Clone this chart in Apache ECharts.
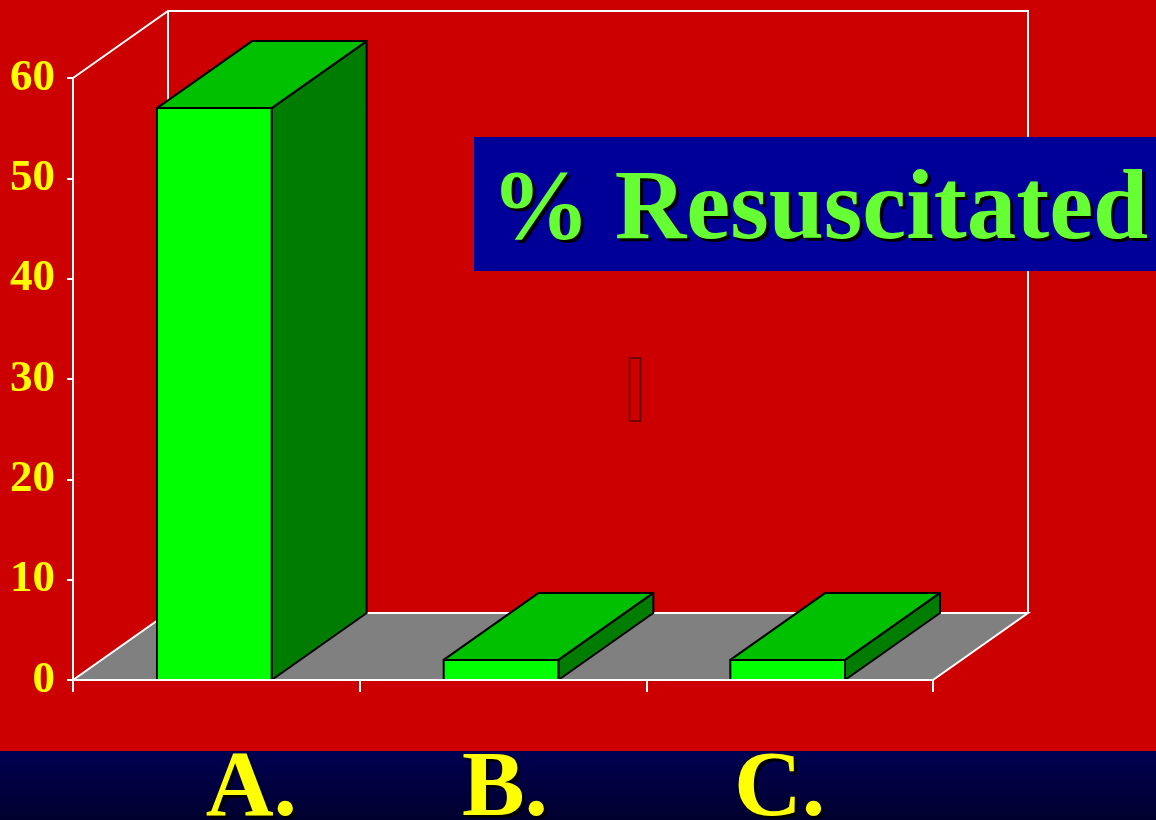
<!DOCTYPE html>
<html>
<head>
<meta charset="utf-8">
<title>% Resuscitated</title>
<script src="https://cdn.jsdelivr.net/npm/echarts@6/dist/echarts.min.js"></script>
<style>
  html, body { margin: 0; padding: 0; background: #cc0000; }
  #chart { width: 1156px; height: 820px; }
</style>
</head>
<body>
<div id="chart"></div>
<script>
// Groups and the share of each group that was resuscitated (%)
const categories = ['A.', 'B.', 'C.'];
const resuscitated = [57, 2, 2];
const yTicks = [0, 10, 20, 30, 40, 50, 60];
const titleText = '% Resuscitated';

const SERIF = '"Liberation Serif", "Times New Roman", serif';
// oblique offset used for the 3-D depth of floor, walls and bars
const DEPTH_X = 95;
const DEPTH_Y = -67;

const chart = echarts.init(document.getElementById('chart'), null, { renderer: 'canvas' });

const yMin = yTicks[0];
const yMax = yTicks[yTicks.length - 1];
const yStep = yTicks[1] - yTicks[0];

// floor, back wall and side wall of the 3-D box
function renderFrame(params, api) {
  const band = api.size([1, 0])[0];
  const left = api.coord([0, yMin])[0] - band / 2;
  const right = api.coord([categories.length - 1, yMin])[0] + band / 2;
  const yBase = api.coord([0, yMin])[1];
  const yTop = api.coord([0, yMax])[1];
  const line = { stroke: '#ffffff', lineWidth: 2, fill: null };
  return {
    type: 'group',
    children: [
      {
        type: 'polygon',
        shape: { points: [[left, yBase], [right, yBase], [right + DEPTH_X, yBase + DEPTH_Y], [left + DEPTH_X, yBase + DEPTH_Y]] },
        style: { fill: '#808080', stroke: null }
      },
      { type: 'polyline', shape: { points: [[left, yBase], [left + DEPTH_X, yBase + DEPTH_Y], [right + DEPTH_X, yBase + DEPTH_Y], [right, yBase]] }, style: line },
      { type: 'polyline', shape: { points: [[left, yTop], [left + DEPTH_X, yTop + DEPTH_Y], [right + DEPTH_X, yTop + DEPTH_Y], [right + DEPTH_X, yBase + DEPTH_Y]] }, style: line },
      { type: 'line', shape: { x1: left + DEPTH_X, y1: yTop + DEPTH_Y, x2: left + DEPTH_X, y2: yBase + DEPTH_Y }, style: line }
    ]
  };
}

// one 3-D column: front face, top face, right face
function renderBar(params, api) {
  const idx = api.value(0);
  const val = api.value(1);
  const band = api.size([1, 0])[0];
  const w = band * 0.4;
  const top = api.coord([idx, val]);
  const base = api.coord([idx, yMin]);
  const x0 = top[0] - w / 2 - 2;
  const x1 = x0 + w;
  const y0 = top[1];
  const y1 = base[1];
  const edge = { stroke: '#000000', lineWidth: 2, lineJoin: 'round' };
  return {
    type: 'group',
    children: [
      {
        type: 'polygon',
        shape: { points: [[x1, y0], [x1 + DEPTH_X, y0 + DEPTH_Y], [x1 + DEPTH_X, y1 + DEPTH_Y], [x1, y1]] },
        style: Object.assign({ fill: '#007c00' }, edge)
      },
      {
        type: 'polygon',
        shape: { points: [[x0, y0], [x0 + DEPTH_X, y0 + DEPTH_Y], [x1 + DEPTH_X, y0 + DEPTH_Y], [x1, y0]] },
        style: Object.assign({ fill: '#00c000' }, edge)
      },
      {
        type: 'rect',
        shape: { x: x0, y: y0, width: w, height: y1 - y0 },
        style: Object.assign({ fill: '#00ff00' }, edge)
      }
    ]
  };
}

const labelShift = [
  { padding: [0, 0, 0, 70] },
  { padding: [0, 0, 0, 4] },
  { padding: [0, 20, 0, 0] }
];
const catRich = {};
labelShift.forEach(function (s, i) {
  catRich['c' + i] = {
    fontFamily: SERIF,
    fontWeight: 'bold',
    fontSize: 94,
    color: '#ffff00',
    textShadowColor: '#000000',
    textShadowOffsetX: 3,
    textShadowOffsetY: 3,
    textShadowBlur: 0.01,
    padding: s.padding
  };
});

const titleStyle = {
  text: titleText,
  fontFamily: SERIF,
  fontWeight: 'bold',
  fontSize: 99,
  verticalAlign: 'middle'
};

const option = {
  backgroundColor: '#cc0000',
  animation: false,
  grid: { left: 73, right: 223, top: 78, bottom: 140, containLabel: false, outerBoundsMode: 'none' },
  xAxis: {
    type: 'category',
    data: categories,
    boundaryGap: true,
    z: 10,
    axisLine: { show: true, lineStyle: { color: '#ffffff', width: 2 } },
    axisTick: { show: true, length: 12, alignWithLabel: false, lineStyle: { color: '#ffffff', width: 2 } },
    axisLabel: {
      margin: 64,
      formatter: function (v, i) { return '{c' + i + '|' + v + '}'; },
      rich: catRich
    },
    splitLine: { show: false }
  },
  yAxis: {
    type: 'value',
    min: yMin,
    max: yMax,
    interval: yStep,
    z: 10,
    axisLine: { show: true, lineStyle: { color: '#ffffff', width: 2 } },
    axisTick: { show: true, length: 6, lineStyle: { color: '#ffffff', width: 2 } },
    axisLabel: {
      margin: 18,
      color: '#ffff00',
      fontFamily: SERIF,
      fontWeight: 'bold',
      fontSize: 45,
      padding: [8, 0, 0, 0]
    },
    splitLine: { show: false }
  },
  graphic: [
    {
      type: 'rect',
      z: -5,
      silent: true,
      shape: { x: 0, y: 751, width: 1156, height: 69 },
      style: {
        fill: new echarts.graphic.LinearGradient(0, 0, 0, 1, [
          { offset: 0, color: '#000052' },
          { offset: 1, color: '#00002e' }
        ])
      }
    },
    {
      type: 'rect',
      z: 20,
      silent: true,
      shape: { x: 474, y: 137, width: 700, height: 134 },
      style: { fill: '#000099' }
    },
    {
      // drop shadow of the title
      type: 'text',
      z: 21,
      silent: true,
      x: 494,
      y: 215,
      style: Object.assign({ fill: '#000000' }, titleStyle)
    },
    {
      type: 'text',
      z: 22,
      silent: true,
      x: 491,
      y: 212,
      style: Object.assign({ fill: '#66ff33' }, titleStyle)
    },
    {
      type: 'rect',
      z: 20,
      silent: true,
      shape: { x: 629.5, y: 358, width: 11, height: 63 },
      style: { fill: null, stroke: '#5a0000', lineWidth: 1.5 }
    }
  ],
  series: [
    {
      type: 'custom',
      silent: true,
      z: 1,
      renderItem: renderFrame,
      data: [[0, yMin]]
    },
    {
      type: 'custom',
      silent: true,
      z: 3,
      renderItem: renderBar,
      encode: { x: 0, y: 1 },
      data: categories.map(function (c, i) { return [i, resuscitated[i]]; })
    }
  ]
};

chart.setOption(option);
</script>
</body>
</html>
